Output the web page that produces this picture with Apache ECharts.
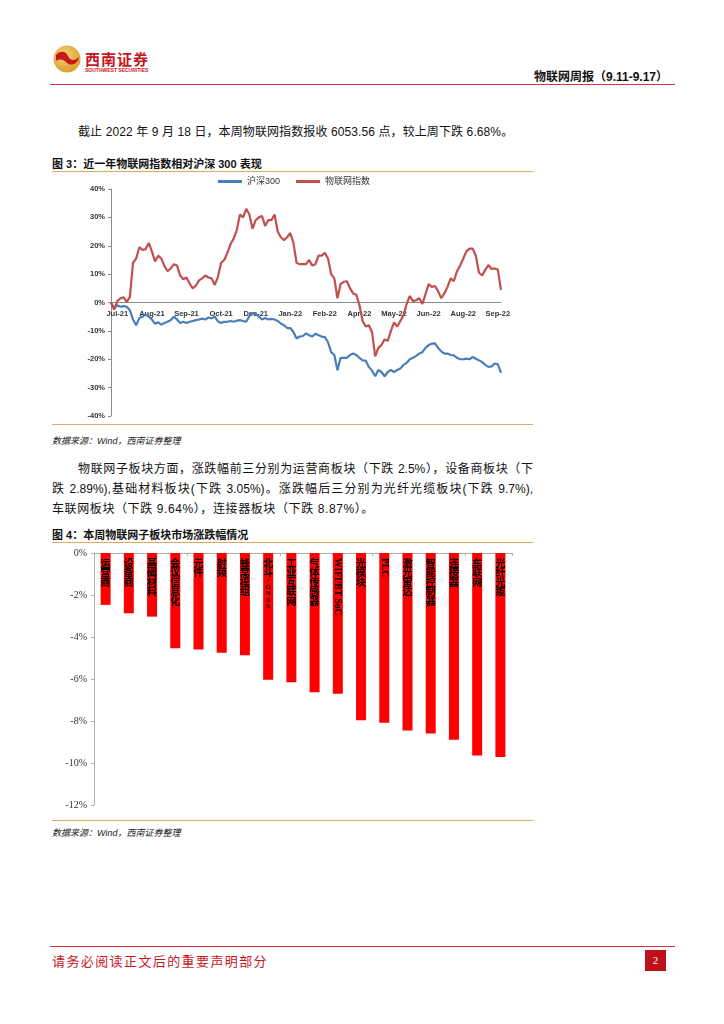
<!DOCTYPE html>
<html><head><meta charset="utf-8">
<script src="https://cdn.jsdelivr.net/npm/echarts@6/dist/echarts.min.js"></script>
<style>
html,body{margin:0;padding:0;background:#fff;}
#page{position:relative;width:724px;height:1024px;overflow:hidden;font-family:"Liberation Sans","Noto Sans CJK SC",sans-serif;color:#111;}
.abs{position:absolute;white-space:nowrap;}
.hline{position:absolute;height:0;}
.cap{font-weight:bold;font-size:11px;}
.src{font-size:9px;font-style:italic;color:#222;}
.para{font-size:12px;}
.just{text-align:justify;text-align-last:justify;}
</style></head>
<body><div id="page">
<svg class="abs" style="left:52px;top:44px" width="32" height="30" viewBox="0 0 32 30">
  <defs><radialGradient id="g" cx="0.4" cy="0.35" r="0.7"><stop offset="0" stop-color="#F6D27A"/><stop offset="1" stop-color="#D99A2B"/></radialGradient></defs>
  <circle cx="15" cy="15" r="13.5" fill="url(#g)"/>
  <path d="M4 11 C8 6,14 7,16 12 C18 17,23 17,27 13 C26 19,20 23,15 19 C12 16,8 14,4 17 Z" fill="#C8161D"/>
</svg>
<div class="abs" style="left:85px;top:48px;font-size:15px;font-weight:bold;color:#C8161D;letter-spacing:1px;">西南证券</div>
<div class="abs" style="left:85px;top:67px;font-size:5px;font-weight:bold;color:#C8161D;">SOUTHWEST SECURITIES</div>
<div class="abs" style="right:56px;top:67px;font-size:12px;font-weight:bold;">物联网周报（9.11-9.17）</div>
<div class="hline" style="left:50px;width:625px;top:84px;border-top:1.5px solid #D6353C;"></div>

<div class="abs para" style="left:78px;top:122px;letter-spacing:0.1px;">截止 2022 年 9 月 18 日，本周物联网指数报收 6053.56 点，较上周下跌 6.68%。</div>
<div class="abs cap" style="left:52px;top:155px;">图 3：近一年物联网指数相对沪深 300 表现</div>
<div class="hline" style="left:52px;width:481px;top:171px;border-top:1.5px solid #E3A865;"></div>
<div id="c1" class="abs" style="left:52px;top:173px;width:481px;height:251px;"></div>
<div class="hline" style="left:52px;width:481px;top:424px;border-top:1.5px solid #E3A865;"></div>
<div class="abs src" style="left:52px;top:434px;">数据来源：Wind，西南证券整理</div>

<div class="abs para just" style="left:78px;top:459px;width:455px;">物联网子板块方面，涨跌幅前三分别为运营商板块（下跌 2.5%），设备商板块（下</div>
<div class="abs para just" style="left:52px;top:479px;width:481px;">跌 2.89%),基础材料板块(下跌 3.05%)。涨跌幅后三分别为光纤光缆板块(下跌 9.7%),</div>
<div class="abs para" style="left:52px;top:499px;letter-spacing:0.6px;">车联网板块（下跌 9.64%），连接器板块（下跌 8.87%）。</div>

<div class="abs cap" style="left:52px;top:526px;">图 4：本周物联网子板块市场涨跌幅情况</div>
<div class="hline" style="left:52px;width:481px;top:542px;border-top:1.5px solid #E3A865;"></div>
<div id="c2" class="abs" style="left:52px;top:544px;width:481px;height:275px;"></div>
<div class="hline" style="left:52px;width:481px;top:820px;border-top:1.5px solid #E3A865;"></div>
<div class="abs src" style="left:52px;top:826px;">数据来源：Wind，西南证券整理</div>

<div class="hline" style="left:50px;width:625px;top:946px;border-top:1.5px solid #D6353C;"></div>
<div class="abs" style="left:52px;top:951px;font-size:13px;color:#C8161D;letter-spacing:1.4px;">请务必阅读正文后的重要声明部分</div>
<div class="abs" style="left:645px;top:950px;width:21px;height:21px;background:#C0101A;color:#fff;font-size:11px;line-height:21px;text-align:center;font-family:'Liberation Serif',serif;">2</div>
</div>
<script>
// ---- Figure 3 data ----
var seriesNames = ['沪深300', '物联网指数'];
var xTickLabels = ['Jul-21','Aug-21','Sep-21','Oct-21','Dec-21','Jan-22','Feb-22','Apr-22','May-22','Jun-22','Aug-22','Sep-22'];
var iotIndex = [0,-2.5,0.5,1.5,1.8,0.2,2,14,15.5,19.5,18.5,18.8,21,18,14.5,16.5,15.5,12.8,11,12,13.5,13,9.5,8.2,8.8,6.7,5,6,7.8,8.5,9.5,8.8,8.5,6.2,9,14,15,17.5,20.5,22.5,25.5,31,30,33,31,26,29,30,30.5,27,29,29,31,25,23,22,23,24.5,21,14,13.5,13.5,13.5,15,13,13.5,16.5,16.5,17.5,15.5,10,8.5,1.5,6.5,7.3,7.5,5,3.2,2.7,-1,-6.5,-8.5,-8,-10.5,-19,-16,-15,-13,-13.5,-10,-7,-8.5,-6.5,-4.5,-0.5,2.3,0.5,0.8,1.5,-0.5,3,6.5,5.5,5.8,4,1.5,3.2,5.5,8.5,7.5,11,13,15.5,18,19,19,16.5,10.5,9.5,11.5,13.2,11.8,12,11.5,4.4];
var hs300 = [0,-2,-1,-1.5,-1.3,-1.5,-2.7,-6,-8,-5.5,-5,-4.2,-5,-6,-7.5,-7,-7.8,-7.2,-6.8,-6.2,-5,-6,-7.2,-6.8,-7.2,-6.8,-6.5,-6.2,-6,-5.7,-6,-5.3,-5.6,-5,-6.7,-7.2,-6.8,-6.8,-6.5,-6.8,-6.4,-6.2,-6.5,-6.8,-4.8,-3.6,-4,-5,-6,-5.5,-6,-5.8,-6,-6.5,-7.4,-8,-9,-9,-10.4,-12.7,-12,-11.8,-10.9,-11.5,-12,-11,-11.5,-12,-12.2,-14,-17.5,-18.5,-23.9,-19.5,-19.5,-19.5,-18.5,-18,-18.5,-19.5,-20.4,-20.5,-22.7,-24,-26,-23.8,-24.5,-26,-24.5,-23.8,-24.5,-23.8,-23.3,-22,-21.3,-20,-19.5,-18.8,-18,-17.5,-16,-15,-14.5,-14.4,-16,-17.2,-18,-18,-18.5,-18.6,-19.5,-20,-20,-19.8,-20,-19.2,-19.8,-20.4,-21,-22,-22.7,-22.5,-21.5,-21.8,-24.8];
var lineYTicks = [-40,40,10];

// ---- Figure 4 data ----
var sectors = ['运营商','设备商','基础材料','会议信息化','元件','射频','蜂窝模组','北斗/GNSS','工业互联网','气体传感器','WIFI/BT SoC','光模块','PLC','激光雷达','智能控制器','连接器','车联网','光纤光缆'];
var sectorChange = [-2.47,-2.87,-3.03,-4.53,-4.6,-4.75,-4.87,-6.03,-6.16,-6.63,-6.7,-7.97,-8.08,-8.45,-8.6,-8.89,-9.64,-9.71];
var barYTicks = [-12,0,2];

var plotH = 227;
var cats = hs300.map(function(_, i){ return String(i); });
var c1 = echarts.init(document.getElementById('c1'), null, {renderer:'canvas'});
c1.setOption({
  animation:false,
  legend:{ left:161, top:-1, itemWidth:24, itemHeight:3, itemGap:16, icon:'rect',
    textStyle:{fontSize:9, color:'#333', fontFamily:'Liberation Sans, Noto Sans CJK SC'} },
  grid:{ left:59, top:16, width:390, height:plotH, containLabel:false },
  xAxis:{ type:'category', data:cats, boundaryGap:false, position:'bottom', offset:-plotH/2,
    axisLine:{onZero:false, lineStyle:{color:'#8c8c8c', width:1}},
    axisTick:{show:false},
    axisLabel:{ interval:function(i){ return i % 11 === 2; },
      formatter:function(v, i){ return xTickLabels[(i-2)/11] || ''; },
      fontSize:7.5, fontWeight:'bold', color:'#333', margin:7, fontFamily:'Liberation Sans' },
    splitLine:{show:false} },
  yAxis:{ type:'value', min:lineYTicks[0], max:lineYTicks[1], interval:lineYTicks[2],
    axisLine:{show:true, lineStyle:{color:'#8c8c8c'}},
    axisTick:{show:true, length:3, lineStyle:{color:'#8c8c8c'}},
    axisLabel:{ formatter:'{value}%', fontSize:7.5, fontWeight:'bold', color:'#333', margin:6, fontFamily:'Liberation Sans' },
    splitLine:{show:false} },
  series:[
    { name:seriesNames[0], type:'line', data:hs300, showSymbol:false, symbol:'none', color:'#4A7EBB',
      lineStyle:{width:2.2, color:'#4A7EBB'} },
    { name:seriesNames[1], type:'line', data:iotIndex, showSymbol:false, symbol:'none', color:'#C0504D',
      lineStyle:{width:2.2, color:'#C0504D'} }
  ]
});

function isAscii(s){ return /^[\x00-\x7F]+$/.test(s); }
var barData = sectors.map(function(name, i){
  var item = { value: sectorChange[i] };
  if (isAscii(name)) {
    item.label = { rotate:-90, align:'left', verticalAlign:'middle', position:'insideTop', distance:5,
      formatter: name, fontFamily:'Liberation Serif', fontSize:9.5, color:'#000', lineHeight:10 };
  }
  return item;
});
var c2 = echarts.init(document.getElementById('c2'), null, {renderer:'canvas'});
c2.setOption({
  animation:false,
  grid:{ left:42, top:9, width:418, height:252, containLabel:false },
  xAxis:{ type:'category', data:sectors,
    axisLine:{onZero:true, lineStyle:{color:'#b0b0b0'}},
    axisTick:{show:true, length:3, lineStyle:{color:'#b0b0b0'}},
    axisLabel:{show:false}, splitLine:{show:false} },
  yAxis:{ type:'value', min:barYTicks[0], max:barYTicks[1], interval:barYTicks[2],
    axisLine:{show:true, lineStyle:{color:'#b0b0b0'}},
    axisTick:{show:true, length:3, lineStyle:{color:'#b0b0b0'}},
    axisLabel:{ formatter:'{value}%', fontSize:10, color:'#333', margin:7, fontFamily:'Liberation Serif' },
    splitLine:{show:false} },
  series:[{ type:'bar', data:barData, barWidth:10, itemStyle:{color:'#FF0000'},
    label:{ show:true, position:'insideTop', distance:5, color:'#000',
      fontSize:10, lineHeight:9.5, fontFamily:'Noto Sans CJK SC', fontWeight:'bold',
      formatter:function(p){
        return p.name.split('').map(function(ch){
          return isAscii(ch) ? '{a|' + ch + '}' : ch;
        }).join('\n');
      },
      rich:{
        a:{ fontSize:7, lineHeight:6.5, fontFamily:'Liberation Serif', color:'#000' }
      } } }]
});
</script>
</body></html>
